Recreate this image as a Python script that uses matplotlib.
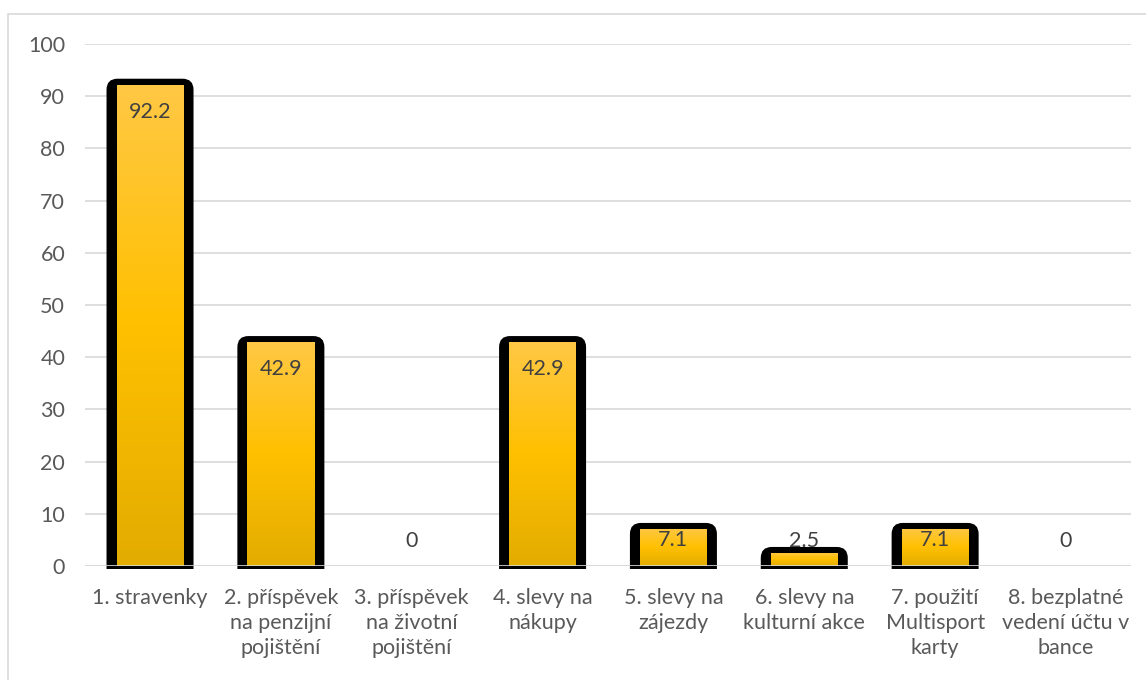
import numpy as np
import matplotlib
matplotlib.use("Agg")
import matplotlib.pyplot as plt
from matplotlib.colors import LinearSegmentedColormap
from matplotlib.patches import Rectangle, FancyBboxPatch

categories = [
    "1. stravenky",
    "2. příspěvek\nna penzijní\npojištění",
    "3. příspěvek\nna životní\npojištění",
    "4. slevy na\nnákupy",
    "5. slevy na\nzájezdy",
    "6. slevy na\nkulturní akce",
    "7. použití\nMultisport\nkarty",
    "8. bezplatné\nvedení účtu v\nbance",
]
values = [92.2, 42.9, 0, 42.9, 7.1, 2.5, 7.1, 0]
y_ticks = [0, 10, 20, 30, 40, 50, 60, 70, 80, 90, 100]

plt.rcParams["font.family"] = ["Lato", "DejaVu Sans"]
text_color = "#595959"
label_color = "#404040"
grid_color = "#D9D9D9"
fs = 15.5

W, H = 1146, 680
fig = plt.figure(figsize=(W / 100, H / 100), dpi=100)
# light outer frame of the chart area
fig.patches.append(Rectangle((8 / W, -0.05), 1.2, 1 - 14 / H + 0.05,
                             transform=fig.transFigure, fill=False,
                             edgecolor="#D9D9D9", linewidth=1.2))

ax_l, ax_r, ax_b, ax_t = 84.6, 1131.4, 566, 44
ax = fig.add_axes([ax_l / W, 1 - ax_b / H, (ax_r - ax_l) / W, (ax_b - ax_t) / H])
x = np.arange(len(categories))

# pixel sizes of one data unit along each axis
px_x = (ax_r - ax_l) / len(categories)
px_y = (ax_b - ax_t) / 100.0

for s in ax.spines.values():
    s.set_visible(False)
ax.set_yticks(y_ticks)
ax.yaxis.grid(True, color=grid_color, linewidth=1.2)
ax.set_axisbelow(True)
ax.tick_params(axis="y", length=0, pad=14, labelsize=fs, labelcolor=text_color)
ax.set_xticks(x)
ax.set_xticklabels(categories, fontsize=fs, color=text_color, linespacing=1.3)
ax.tick_params(axis="x", length=0, pad=16)

cmap = LinearSegmentedColormap.from_list(
    "gold", [(0.0, "#E2AC00"), (0.5, "#FFC000"), (1.0, "#FFC845")])
grad = np.linspace(0, 1, 256).reshape(-1, 1)

inner_w = 67 / px_x      # yellow fill width
outer_w = 87 / px_x      # black frame width
top_pad = 6 / px_y       # frame thickness above the fill
low_pad = 3 / px_y       # frame visible below the baseline
radius = 11 / px_x

for xi, v in zip(x, values):
    if v <= 0:
        continue
    # black rounded frame
    frame = FancyBboxPatch((xi - outer_w / 2, -30 / px_y), outer_w, v + top_pad + 30 / px_y,
                           boxstyle=f"round,pad=0,rounding_size={radius}",
                           mutation_aspect=px_x / px_y,
                           facecolor="black", edgecolor="none", zorder=2)
    ax.add_patch(frame)
    clip = Rectangle((xi - outer_w, -low_pad), 2 * outer_w, 200,
                     transform=ax.transData)
    frame.set_clip_path(clip)
    # gradient fill of the bar itself
    bar = ax.bar(xi, v, width=inner_w, facecolor="none", edgecolor="none", zorder=3)[0]
    im = ax.imshow(grad, cmap=cmap, origin="lower", aspect="auto",
                   extent=(xi - inner_w / 2, xi + inner_w / 2, 0, v), zorder=3)
    im.set_clip_path(bar)

ax.set_xlim(-0.5, len(categories) - 0.5)
ax.set_ylim(0, 100)
ax.axhline(0, color=grid_color, linewidth=1.2, zorder=4)

for xi, v in zip(x, values):
    px = v * px_y
    if px > 60:
        off = -27
    elif v >= 5:
        off = -11
    else:
        off = 25 - px
    ax.annotate(f"{v:g}", (xi, v), xytext=(0, off), textcoords="offset pixels",
                ha="center", va="center", fontsize=fs, color=label_color, zorder=5)

fig.savefig("out.png", dpi=100)
